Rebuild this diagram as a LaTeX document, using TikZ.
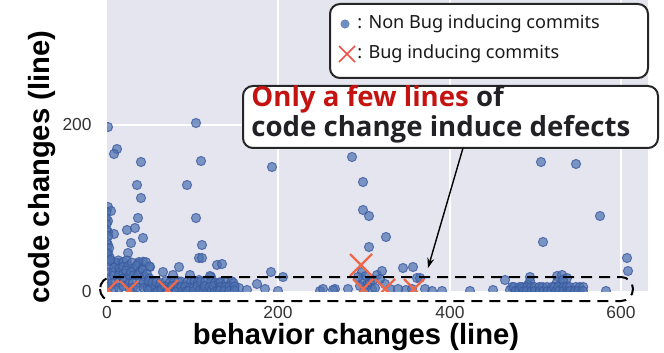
\documentclass[tikz,border=0pt]{standalone}
\usepackage{fontspec}
\setmainfont{Liberation Sans}
\newfontfamily\notosans{Noto Sans}
\newfontfamily\calfont{Open Sans}
\usetikzlibrary{arrows.meta}
\definecolor{plotbg}{RGB}{229,229,240}
\definecolor{dotblue}{RGB}{76,114,176}
\definecolor{dotedge}{RGB}{58,88,158}
\definecolor{bugred}{RGB}{240,104,74}
\definecolor{legred}{RGB}{236,80,70}
\definecolor{calred}{RGB}{196,20,18}
\definecolor{caltext}{RGB}{34,34,38}
\definecolor{tickgray}{RGB}{51,51,51}
\tikzset{
  dotsty/.style={fill=dotblue,fill opacity=0.7,draw=dotedge,draw opacity=0.75,line width=0.5pt},
  bugx/.style={draw=bugred,line width=1.1pt},
  grid line/.style={draw=white,line width=0.8pt},
  tick label/.style={font=\fontsize{8.7}{9}\selectfont,text=tickgray,inner sep=0pt},
  axis label/.style={font=\bfseries\fontsize{14.6}{15}\selectfont,text=black,inner sep=0pt},
  frame box/.style={draw=black!85,line width=1pt,fill=white,rounded corners=5pt},
  leg text/.style={font=\notosans\fontsize{9.05}{10}\selectfont,text=black!90,anchor=west,inner sep=0pt},
  call text/.style={font=\calfont\bfseries\fontsize{13.8}{13.5}\selectfont,text=caltext,align=left,anchor=west,inner sep=0pt},
  hl box/.style={draw=black,line width=1pt,dash pattern=on 5.5pt off 3.5pt,rounded corners=6pt},
  pointer/.style={draw=black,line width=0.7pt,-{Stealth[length=5pt,width=3.5pt]}}
}
\begin{document}
\begin{tikzpicture}[x=0.5pt,y=-0.5pt]
\useasboundingbox (0,0) rectangle (664,353);
% plot background
\fill[plotbg] (107,0) rectangle (648,291);
\foreach \gx in {278,450,621} \draw[grid line] (\gx,0) -- (\gx,291);
\draw[grid line] (107,125) -- (648,125);
% scatter
\begin{scope}
\clip (107,0) rectangle (648,291);
\pgfmathsetseed{11}
\foreach \x/\y in {108/127,196/123,117/149,114/154,141/162,201/161,272/167,137/185,187/185,141/198,
  108/207,111/211,108/221,138/218,196/218,127/230,135/228,114/234,143/238,131/243,108/245,128/253,
  202/245,199/258,202/258,150/267,163/272,179/267,173/275,190/275,211/277,217/265,222/264,199/280,
  220/283,227/287,239/288,247/290,257/284,265/289,271/272,283/277,278/291,320/291,139/262,118/263,210/276,
  108/232,108/253,110/258,
  352/157,363/182,363/210,369/216,386/237,369/247,323/289,335/289,348/289,362/272,363/280,367/285,
  377/275,382/271,385/284,380/279,403/268,413/267,417/278,406/290,333/290,420/278,432/291,442/291,
  365/289,372/289,390/289,398/289,412/289,425/289,358/277,370/282,375/288,360/286,366/276,373/280,
  541/162,576/164,600/216,543/242,627/258,628/271,505/280,512/287,493/290,530/277,528/285,557/276,
  562/275,567/278,557/282,606/291,523/288,510/290,518/290,470/291,
  530/281,560/285,563/280}
  \draw[dotsty] (\x,\y) circle[radius=2.3pt];
\foreach \x in {108,113,...,150} \foreach \y in {262,267,...,290}
  \draw[dotsty] (\x+rand*2,\y+rand*2) circle[radius=2.3pt];
\foreach \y in {212,218,...,260} \draw[dotsty] (108+rand*2,\y) circle[radius=2.3pt];
\foreach \x in {150,154,...,234} \foreach \y in {282,287,291}
  \draw[dotsty] (\x+rand*2,\y+rand) circle[radius=2.3pt];
\foreach \x in {515,519,...,585} \foreach \y in {287,291}
  \draw[dotsty] (\x+rand,\y) circle[radius=2.3pt];
% bug inducing commits
\foreach \x/\y/\s in {361/265/11,363/289/10,385/289/10,414/289/10,108/290/10,129/290/9,168/290/10}
  \draw[bugx] (\x-\s,\y-\s) -- (\x+\s,\y+\s) (\x-\s,\y+\s) -- (\x+\s,\y-\s);
\end{scope}
% tick labels
\node[tick label,anchor=base] (xt0) at (107,318) {0};
\node[tick label,anchor=base] (xt200) at (278,318) {200};
\node[tick label,anchor=base] (xt400) at (450,318) {400};
\node[tick label,anchor=base] (xt600) at (621,318) {600};
\node[tick label,anchor=east] (yt0) at (92,292) {0};
\node[tick label,anchor=east] (yt200) at (92,125) {200};
% axis labels
\node[axis label,anchor=base] (xlab) at (356,344) {behavior changes (line)};
\node[axis label,rotate=90] (ylab) at (42,167) {code changes (line)};
% highlight
\draw[hl box] (100,277) rectangle (633,301);
% legend
\draw[frame box] (330,4) rectangle (648,78);
\fill[dotblue,fill opacity=0.8] (345,24) circle[radius=2.3pt];
\draw[draw=legred,line width=0.8pt] (339,46) -- (355,62) (339,62) -- (355,46);
\node[leg text] (leg1) at (357,24) {: Non Bug inducing commits};
\node[leg text] (leg2) at (357,54) {: Bug inducing commits};
% callout
\draw[frame box] (243,86) rectangle (658,148);
\node[call text] (call) at (251,114) {\textcolor{calred}{Only a few lines} of\\code change induce defects};
\coordinate (callfoot) at (463,148);
\coordinate (target) at (428,268);
\draw[pointer] (callfoot) -- (target);
\end{tikzpicture}
\end{document}
